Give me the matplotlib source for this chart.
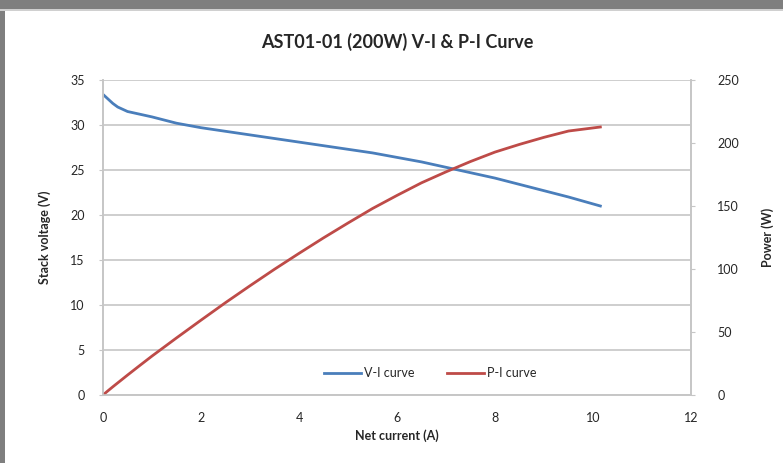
import matplotlib.pyplot as plt
from matplotlib.patches import Rectangle

# Data
current = [0, 0.1, 0.2, 0.3, 0.5, 0.75, 1.0, 1.5, 2.0, 2.5, 3.0, 3.5, 4.0, 4.5,
           5.0, 5.5, 6.0, 6.5, 7.0, 7.5, 8.0, 8.5, 9.0, 9.5, 10.15]
voltage = [33.4, 32.9, 32.4, 32.0, 31.5, 31.2, 30.9, 30.2, 29.7, 29.3, 28.9, 28.5,
           28.1, 27.7, 27.3, 26.9, 26.4, 25.9, 25.3, 24.7, 24.1, 23.4, 22.7, 22.0, 21.0]
power = [0, 3.3, 6.5, 9.6, 15.8, 23.4, 30.9, 45.3, 59.4, 73.3, 86.7, 99.8, 112.4,
         124.7, 136.5, 148.0, 158.4, 168.4, 177.1, 185.3, 192.8, 198.9, 204.5, 209.5, 212.7]

x_ticks = [0, 2, 4, 6, 8, 10, 12]
v_ticks = [0, 5, 10, 15, 20, 25, 30, 35]
p_ticks = [0, 50, 100, 150, 200, 250]

plt.rcParams['font.family'] = ['Lato', 'DejaVu Sans']

blue = '#4a7ebb'
red = '#be4b48'
grid_col = '#c6c6c6'
text_col = '#262626'

fig = plt.figure(figsize=(7.83, 4.63), dpi=100)
fig.patch.set_facecolor('white')

# grey window frame around the chart
fig.patches.append(Rectangle((0, 1 - 9 / 463), 1, 9 / 463, transform=fig.transFigure,
                             facecolor='#7f7f7f', edgecolor='none'))
fig.patches.append(Rectangle((0, 0), 5 / 783, 1, transform=fig.transFigure,
                             facecolor='#7f7f7f', edgecolor='none'))
fig.patches.append(Rectangle((0, 1 - 11 / 463), 1, 2 / 463, transform=fig.transFigure,
                             facecolor='#d0d0d0', edgecolor='none'))

ax = fig.add_axes([103 / 783, 68 / 463, 588 / 783, 315 / 463])
ax2 = ax.twinx()

l1, = ax.plot(current, voltage, color=blue, lw=2.0, label='V-I curve')
l2, = ax2.plot(current, power, color=red, lw=2.0, label='P-I curve')

ax.set_xlim(0, 12)
ax.set_ylim(0, 35)
ax2.set_ylim(0, 250)
ax.set_xticks(x_ticks)
ax.set_yticks(v_ticks)
ax2.set_yticks(p_ticks)

ax.grid(axis='y', color=grid_col, lw=1.2)
ax.set_axisbelow(True)

for a in (ax, ax2):
    a.spines['top'].set_visible(False)
    for s in ('left', 'right', 'bottom'):
        a.spines[s].set_color(grid_col)
        a.spines[s].set_linewidth(1.2)
    a.tick_params(colors=text_col, labelsize=9, length=3, color=grid_col)

ax.tick_params(axis='x', length=0, pad=12)
ax.tick_params(axis='y', pad=10)
ax2.tick_params(axis='y', pad=16)

ax.set_title('AST01-01 (200W) V-I & P-I Curve', fontsize=13, fontweight='bold',
             color=text_col, pad=23)
ax.set_xlabel('Net current (A)', fontsize=9, fontweight='bold', color=text_col, labelpad=4)
ax.set_ylabel('Stack voltage (V)', fontsize=9, fontweight='bold', color=text_col, labelpad=14)
ax2.set_ylabel('Power (W)', fontsize=9, fontweight='bold', color=text_col, labelpad=16)

ax2.legend([l1, l2], ['V-I curve', 'P-I curve'], loc='center',
           bbox_to_anchor=(0.556, 0.07), ncol=2, frameon=False, fontsize=9,
           handlelength=3, columnspacing=2.6, handletextpad=0.2,
           labelcolor=text_col)

fig.savefig('out.png', dpi=100)
